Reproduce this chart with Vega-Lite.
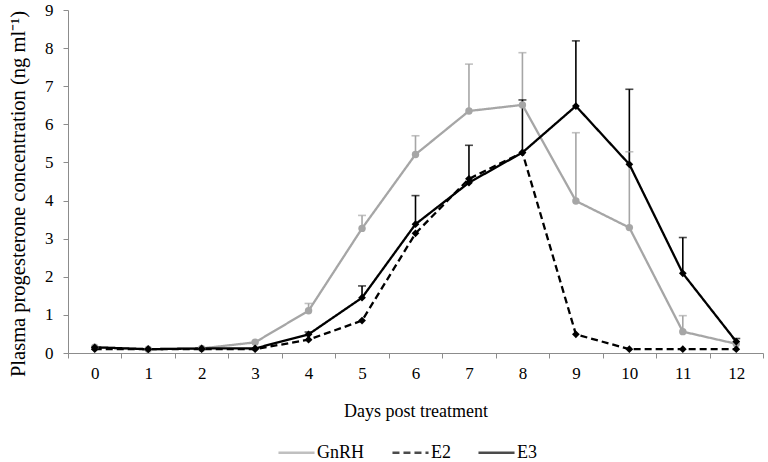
{
  "$schema": "https://vega.github.io/schema/vega-lite/v6.json",
  "autosize": "none",
  "width": 695,
  "height": 343,
  "padding": {"left": 68, "top": 10, "right": 5, "bottom": 109},
  "background": "white",
  "config": {
    "font": "Liberation Serif",
    "view": {"stroke": null},
    "axis": {"labelFont": "Liberation Serif", "titleFont": "Liberation Serif", "labelColor": "black", "titleColor": "black", "titleFontWeight": "normal", "domainColor": "#8c8c8c", "tickColor": "#8c8c8c", "grid": false},
    "legend": {"labelFont": "Liberation Serif", "labelColor": "black"}
  },
  "data": {
    "values": [
      {"day": 0, "group": "GnRH", "mean": 0.15, "upper": null},
      {"day": 1, "group": "GnRH", "mean": 0.1, "upper": null},
      {"day": 2, "group": "GnRH", "mean": 0.12, "upper": null},
      {"day": 3, "group": "GnRH", "mean": 0.28, "upper": null},
      {"day": 4, "group": "GnRH", "mean": 1.11, "upper": 1.3},
      {"day": 5, "group": "GnRH", "mean": 3.27, "upper": 3.61},
      {"day": 6, "group": "GnRH", "mean": 5.21, "upper": 5.7},
      {"day": 7, "group": "GnRH", "mean": 6.35, "upper": 7.58},
      {"day": 8, "group": "GnRH", "mean": 6.51, "upper": 7.88},
      {"day": 9, "group": "GnRH", "mean": 3.99, "upper": 5.78},
      {"day": 10, "group": "GnRH", "mean": 3.29, "upper": 5.28},
      {"day": 11, "group": "GnRH", "mean": 0.56, "upper": 0.98},
      {"day": 12, "group": "GnRH", "mean": 0.24, "upper": null},
      {"day": 0, "group": "E2", "mean": 0.1, "upper": null},
      {"day": 1, "group": "E2", "mean": 0.1, "upper": null},
      {"day": 2, "group": "E2", "mean": 0.1, "upper": null},
      {"day": 3, "group": "E2", "mean": 0.1, "upper": null},
      {"day": 4, "group": "E2", "mean": 0.35, "upper": null},
      {"day": 5, "group": "E2", "mean": 0.85, "upper": null},
      {"day": 6, "group": "E2", "mean": 3.14, "upper": null},
      {"day": 7, "group": "E2", "mean": 4.57, "upper": null},
      {"day": 8, "group": "E2", "mean": 5.26, "upper": null},
      {"day": 9, "group": "E2", "mean": 0.49, "upper": null},
      {"day": 10, "group": "E2", "mean": 0.1, "upper": null},
      {"day": 11, "group": "E2", "mean": 0.1, "upper": null},
      {"day": 12, "group": "E2", "mean": 0.1, "upper": null},
      {"day": 0, "group": "E3", "mean": 0.15, "upper": null},
      {"day": 1, "group": "E3", "mean": 0.1, "upper": null},
      {"day": 2, "group": "E3", "mean": 0.12, "upper": null},
      {"day": 3, "group": "E3", "mean": 0.12, "upper": null},
      {"day": 4, "group": "E3", "mean": 0.49, "upper": 0.55},
      {"day": 5, "group": "E3", "mean": 1.45, "upper": 1.76},
      {"day": 6, "group": "E3", "mean": 3.38, "upper": 4.13},
      {"day": 7, "group": "E3", "mean": 4.47, "upper": 5.45},
      {"day": 8, "group": "E3", "mean": 5.26, "upper": 6.64},
      {"day": 9, "group": "E3", "mean": 6.48, "upper": 8.19},
      {"day": 10, "group": "E3", "mean": 4.95, "upper": 6.92},
      {"day": 11, "group": "E3", "mean": 2.09, "upper": 3.03},
      {"day": 12, "group": "E3", "mean": 0.3, "upper": 0.38}
    ]
  },
  "encoding": {
    "x": {
      "field": "day", "type": "ordinal", "bandPosition": 0.5,
      "scale": {"type": "band", "paddingInner": 0, "paddingOuter": 0},
      "axis": {"title": "Days post treatment", "labelAngle": 0, "tickBand": "extent", "tickSize": 5, "labelFontSize": 17, "labelPadding": 7, "titleFontSize": 18, "titlePadding": 21}
    },
    "y": {
      "field": "mean", "type": "quantitative",
      "scale": {"domain": [0, 9], "nice": false},
      "axis": {"title": "Plasma progesterone concentration (ng ml⁻¹)", "values": [0,1,2,3,4,5,6,7,8,9], "tickSize": 5, "labelFontSize": 17, "labelPadding": 10, "titleFontSize": 20.5, "titlePadding": 16, "titleY": 183.5}
    },
    "color": {"field": "group", "type": "nominal", "sort": ["GnRH", "E2", "E3"],
      "scale": {"domain": ["GnRH", "E2", "E3"], "range": ["#a6a6a6", "black", "black"]},
      "legend": {"title": null, "orient": "none", "legendX": 209, "legendY": 423, "direction": "horizontal", "symbolType": "stroke", "symbolSize": 1300, "symbolStrokeWidth": 2.4, "labelFontSize": 18, "columnPadding": 22, "labelOffset": 1}}
  },
  "layer": [
    {
      "transform": [{"filter": "datum.upper != null"}],
      "mark": {"type": "rule", "strokeWidth": 1.6},
      "encoding": {
        "y2": {"field": "upper"}
      }
    },
    {
      "transform": [{"filter": "datum.upper != null"}],
      "mark": {"type": "tick", "thickness": 1.6, "size": 8},
      "encoding": {
        "y": {"field": "upper", "type": "quantitative"}
      }
    },
    {
      "mark": {"type": "line", "strokeWidth": 2.3},
      "encoding": {
        "strokeDash": {"field": "group", "type": "nominal", "sort": ["GnRH", "E2", "E3"], "scale": {"domain": ["GnRH", "E2", "E3"], "range": [[1, 0], [7, 4], [1, 0]]},
          "legend": {"title": null, "orient": "none", "legendX": 209, "legendY": 423, "direction": "horizontal", "symbolType": "stroke", "symbolSize": 1300, "symbolStrokeWidth": 2.4, "labelFontSize": 18, "columnPadding": 22, "labelOffset": 1}}
      }
    },
    {
      "transform": [{"filter": "datum.group == 'GnRH'"}],
      "mark": {"type": "point", "filled": true, "opacity": 1, "shape": "circle", "size": 55}
    },
    {
      "transform": [{"filter": "datum.group != 'GnRH'"}],
      "mark": {"type": "point", "filled": true, "opacity": 1, "shape": "diamond", "size": 60}
    }
  ]
}
